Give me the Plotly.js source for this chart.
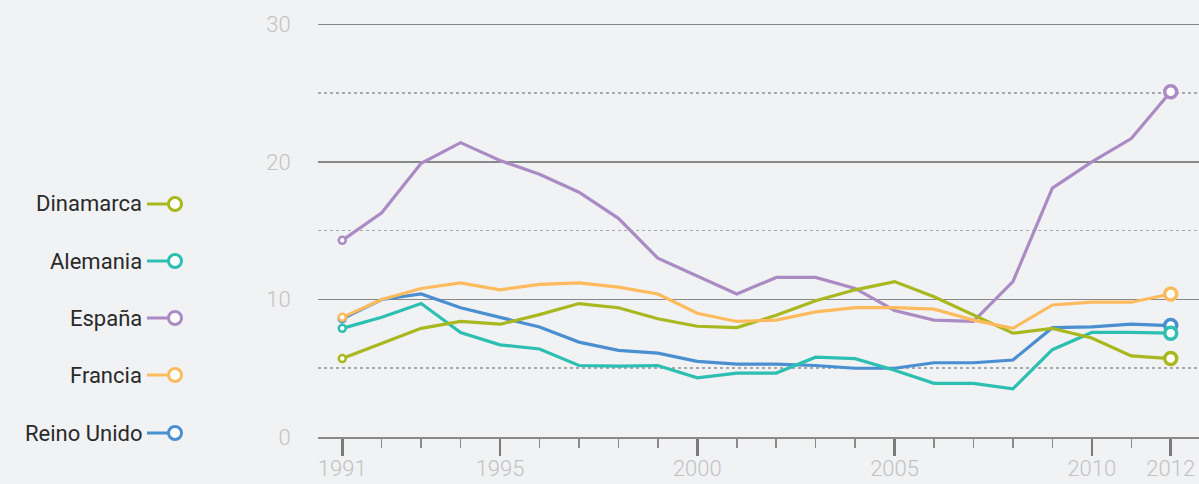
<!DOCTYPE html>
<html>
<head>
<meta charset="utf-8">
<script src="https://cdn.plot.ly/plotly-3.0.1.min.js"></script>
<style>
html,body{margin:0;padding:0;background:#f1f2f4;}
#chart{width:1199px;height:484px;}
</style>
</head>
<body>
<div id="chart"></div>
<script>
const years = [1991,1992,1993,1994,1995,1996,1997,1998,1999,2000,2001,2002,2003,2004,2005,2006,2007,2008,2009,2010,2011,2012];
const dinamarca  = [5.7,6.8,7.9,8.4,8.2,8.9,9.7,9.4,8.6,8.05,7.95,8.85,9.9,10.7,11.3,10.2,8.85,7.55,7.9,7.2,5.9,5.7];
const alemania   = [7.9,8.7,9.7,7.6,6.7,6.4,5.2,5.15,5.2,4.3,4.65,4.65,5.8,5.7,4.85,3.9,3.9,3.5,6.35,7.6,7.6,7.55];
const espana     = [14.3,16.3,19.9,21.4,20.1,19.1,17.8,15.9,13.0,11.7,10.4,11.6,11.6,10.8,9.2,8.5,8.4,11.3,18.1,20.0,21.7,25.1];
const francia    = [8.7,10.0,10.8,11.2,10.7,11.1,11.2,10.9,10.4,9.0,8.4,8.5,9.1,9.4,9.4,9.3,8.5,7.9,9.6,9.8,9.8,10.4];
const reinoUnido = [8.6,10.0,10.4,9.4,8.7,8.0,6.9,6.3,6.1,5.5,5.3,5.3,5.2,5.0,5.0,5.4,5.4,5.6,7.95,8.0,8.2,8.1];
const seriesNames = ["Dinamarca","Alemania","España","Francia","Reino Unido"];
const colors = {"Dinamarca":"#a8b81e","Alemania":"#2dbfb2","España":"#ab8bc4","Francia":"#fdbb5e","Reino Unido":"#4a8fd0"};
const dataBy = {"Dinamarca":dinamarca,"Alemania":alemania,"España":espana,"Francia":francia,"Reino Unido":reinoUnido};
const majorTicks = [1991,1995,2000,2005,2010,2012];
const yTicks = [0,10,20,30];

const drawOrder = ["Reino Unido","Alemania","España","Dinamarca","Francia"];
const n = years.length;
const traces = drawOrder.map(name => {
  const sizes = years.map((y,i)=> i===0 ? 7 : (i===n-1 ? 12 : 0));
  const lw = years.map((y,i)=> i===0 ? 2.5 : (i===n-1 ? 3.5 : 0));
  return {
    x: years, y: dataBy[name], name: name, type:'scatter', mode:'lines+markers',
    line:{color:colors[name], width:3.2},
    marker:{size:sizes, color:'#ffffff', line:{color:colors[name], width:lw}, opacity:1},
    showlegend:false, hoverinfo:'skip', cliponaxis:false
  };
});

// custom legend on the left
const W = 881, H = 414, L = 318, T = 23;
const legendY = [204,261,318,375,433];
const shapes = [], annotations = [];
seriesNames.forEach((name,i)=>{
  const py = legendY[i];
  const yp = 1 - (py - T)/H;
  shapes.push({type:'line', xref:'paper', yref:'paper', x0:(147-L)/W, x1:(169-L)/W, y0:yp, y1:yp,
    line:{color:colors[name], width:3}});
  shapes.push({type:'circle', xref:'paper', yref:'paper', xsizemode:'pixel', ysizemode:'pixel',
    xanchor:(175-L)/W, yanchor:yp, x0:-6.5, x1:6.5, y0:-6.5, y1:6.5,
    fillcolor:'#ffffff', line:{color:colors[name], width:3}});
  annotations.push({xref:'paper', yref:'paper', x:(144-L)/W, y:yp, xanchor:'right', yanchor:'middle',
    text:name, showarrow:false, font:{family:'Roboto, sans-serif', size:22, color:'#2a2a2a'}});
});

const layout = {
  width:1199, height:484,
  margin:{l:L, r:0, t:T, b:484-T-H},
  paper_bgcolor:'#f1f2f4', plot_bgcolor:'#f1f2f4',
  showlegend:false,
  xaxis:{
    range:[1990.385, 2012.717], tickmode:'array', tickvals:majorTicks, ticktext:majorTicks.map(String),
    ticks:'outside', ticklen:17, tickwidth:2.5, tickcolor:'#7a7a7a', ticklabelstandoff:-6,
    showgrid:false, zeroline:false, showline:true, linecolor:'#8a8a8a', linewidth:2,
    tickfont:{family:'Roboto, sans-serif', size:22, color:'#c2c2c2', weight:300},
    minor:{dtick:1, tick0:1991, ticks:'outside', ticklen:9, tickwidth:1.5, tickcolor:'#8a8a8a', showgrid:false},
    fixedrange:true
  },
  yaxis:{
    range:[0,30.1], tickmode:'array', tickvals:yTicks, ticktext:yTicks.map(String),
    ticks:'outside', ticklen:22, tickcolor:'rgba(0,0,0,0)',
    showgrid:true, gridcolor:'#888888', gridwidth:1.5, zeroline:false, showline:false,
    tickfont:{family:'Roboto, sans-serif', size:22, color:'#c2c2c2', weight:300},
    minor:{tickvals:[5,15,25], showgrid:true, gridcolor:'#a8a8a8', gridwidth:1.5, griddash:'dot', ticks:''},
    fixedrange:true
  },
  shapes:shapes, annotations:annotations
};
Plotly.newPlot('chart', traces, layout, {displayModeBar:false, staticPlot:true});
</script>
</body>
</html>
